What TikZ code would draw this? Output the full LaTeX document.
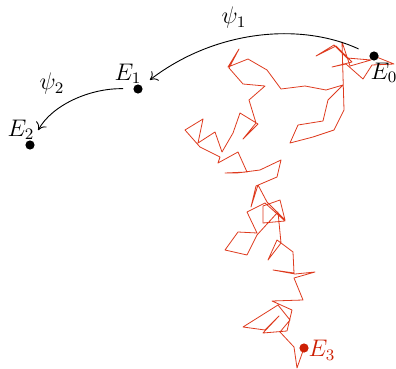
\documentclass[tikz,border=0pt]{standalone}
\usetikzlibrary{arrows.meta}
\definecolor{walkred}{RGB}{222,58,30}
\definecolor{endred}{RGB}{205,32,4}
\tikzset{
  dot/.style={circle,fill=black,inner sep=0pt,minimum size=4.6pt},
  reddot/.style={dot,fill=endred},
  lbl/.style={inner sep=0pt,font=\fontsize{12}{14}\selectfont},
  walk/.style={walkred,line width=0.4pt,line join=round},
  map/.style={-{To[length=3.5pt,width=6pt]},line width=0.45pt}
}
\begin{document}
\begin{tikzpicture}[x=0.5pt,y=-0.5pt]
\useasboundingbox (0,0) rectangle (396,369);
% random walk
\draw[walk] (374,56) -- (394,64) -- (372,65) -- (363,79) -- (346,64) -- (332,67) -- (352,62) -- (336,46) -- (316,56) -- (334,45) -- (347,58) -- (371,60) -- (350,66) -- (342,42) -- (344,110) -- (334,130) -- (313,137) -- (290,143) -- (298,125) -- (323,121) -- (328,100) -- (343,85) -- (326,90) -- (305,86) -- (281,89) -- (267,70) -- (248,59) -- (228,67) -- (239,49) -- (229,68) -- (243,84) -- (265,86) -- (249,100) -- (256,123) -- (243,139) -- (258,124) -- (240,113) -- (233,133) -- (222,152) -- (215,132) -- (198,143) -- (203,119) -- (185,130) -- (200,147) -- (220,157) -- (218,163) -- (238,152) -- (247,172) -- (225,173) -- (237,173) -- (260,170) -- (281,160) -- (277,177) -- (256,186) -- (251,207) -- (258,185) -- (267,202) -- (285,220) -- (280,200) -- (263,206) -- (263,223) -- (285,221) -- (265,203) -- (247,212) -- (257,233) -- (238,232) -- (225,250) -- (247,255) -- (257,235) -- (278,212) -- (281,243) -- (268,260) -- (277,240) -- (293,252) -- (294,273) -- (273,270) -- (295,274) -- (315,272) -- (294,278) -- (303,300) -- (272,301) -- (292,310) -- (287,331) -- (263,333) -- (279,316) -- (265,330) -- (243,327) -- (278,305) -- (290,320) -- (280,332) -- (294,347) -- (297,368) -- (304,348);
% points
\node[dot] (e0) at (374,56) {};
\node[dot] (e1) at (138,89) {};
\node[dot] (e2) at (30,145) {};
\node[reddot] (e3) at (304,348) {};
% labels
\node[lbl] (l0) at (384,73) {$E_0$};
\node[lbl] (l1) at (128,74) {$E_1$};
\node[lbl] (l2) at (21,130) {$E_2$};
\node[lbl,text=endred] (l3) at (322,350) {$E_3$};
\node[lbl] (p1) at (234,18) {$\psi_1$};
\node[lbl] (p2) at (52,84) {$\psi_2$};
% maps
\draw[map,shorten <=6pt,shorten >=5pt] (e0) .. controls (300,22) and (215,30) .. (e1);
\draw[map,shorten <=5pt,shorten >=6pt] (e1) .. controls (90,88) and (52,105) .. (e2);
\end{tikzpicture}
\end{document}
